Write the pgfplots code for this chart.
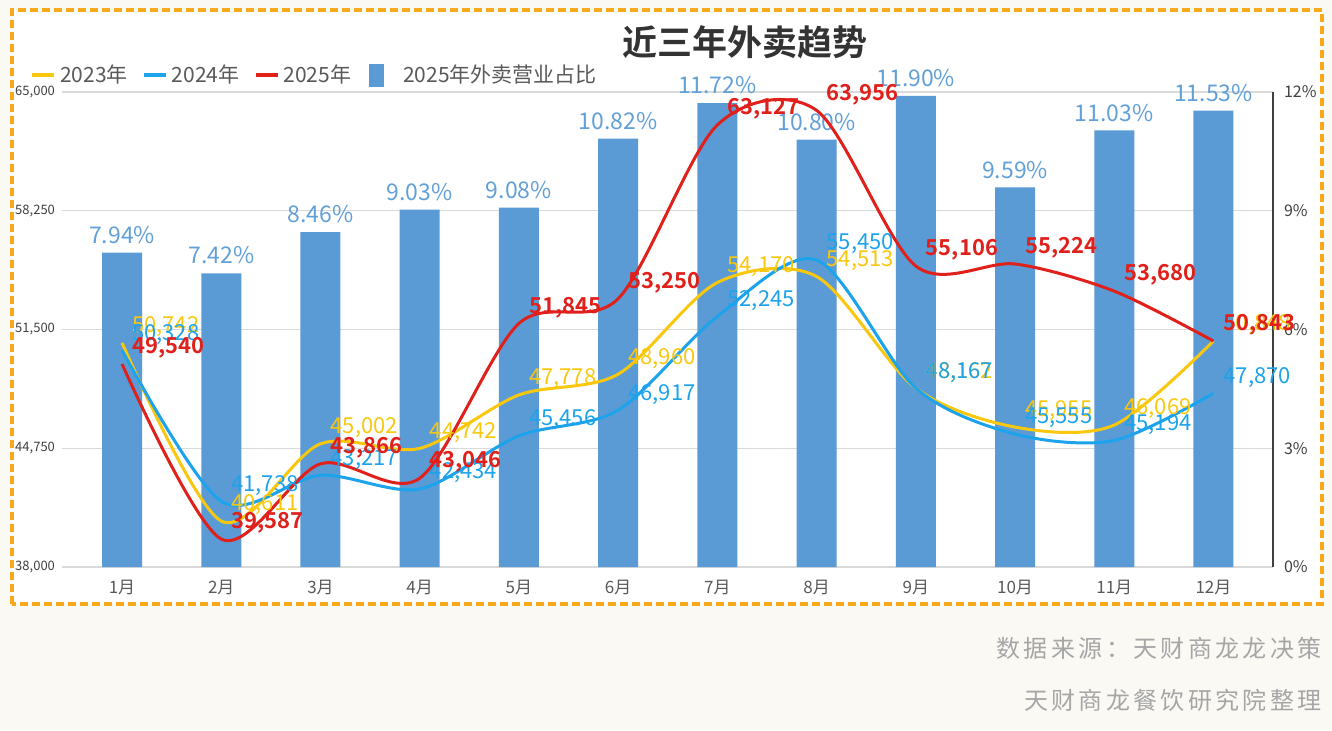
\documentclass[border=0pt]{standalone}
\usepackage{pgfplots}
\pgfplotsset{compat=1.18}
\usepackage{fontspec}
\setmainfont{Noto Sans CJK SC}[BoldFont={Noto Sans CJK SC Bold}]
\newfontfamily\footfont{Noto Sans CJK SC}[LetterSpace=14]
\definecolor{cream}{HTML}{FAF9F4}
\definecolor{frameorange}{HTML}{F7A81B}
\definecolor{barblue}{HTML}{5B9BD5}
\definecolor{barlabel}{HTML}{62A0D8}
\definecolor{ylw}{HTML}{F9C80E}
\definecolor{lblue}{HTML}{1CA3EC}
\definecolor{lred}{HTML}{E0201B}
\definecolor{gridgray}{HTML}{D9D9D9}
\definecolor{txtgray}{HTML}{595959}
\definecolor{darkgray}{HTML}{404040}
\definecolor{titlegray}{HTML}{333333}
\definecolor{footgray}{HTML}{A6A6A6}
\begin{document}
\begin{tikzpicture}
\useasboundingbox (0,0) rectangle (666pt,365pt);
\fill[cream] (0,0) rectangle (666pt,365pt);
\fill[white] (6pt,63pt) rectangle (661pt,360pt);
\draw[frameorange, line width=1.6pt, dash pattern=on 4pt off 2pt] (6pt,63pt) rectangle (661pt,360pt);
\node[font=\fontsize{17.5}{20}\selectfont\bfseries, text=titlegray] at (372.5pt,344pt) {近三年外卖趋势};
\node[anchor=east, inner sep=0pt, font=\footfont\fontsize{12}{14}\selectfont, text=footgray] at (661pt,41pt) {数据来源：天财商龙龙决策};
\node[anchor=east, inner sep=0pt, font=\footfont\fontsize{12}{14}\selectfont, text=footgray] at (661pt,15pt) {天财商龙餐饮研究院整理};

\begin{axis}[
  at={(31pt,81.5pt)}, anchor=south west, scale only axis,
  width=605.5pt, height=237.5pt,
  xmin=-0.605, xmax=11.6, ymin=0, ymax=12,
  axis x line*=bottom, axis y line*=right,
  x axis line style={draw=gridgray, line width=0.8pt, -},
  y axis line style={draw=darkgray, line width=0.8pt, -},
  xtick={0,...,11},
  xticklabels={1月,2月,3月,4月,5月,6月,7月,8月,9月,10月,11月,12月},
  major tick length=0pt,
  ytick={0,3,6,9,12},
  yticklabel={\pgfmathprintnumber{\tick}\%},
  ymajorgrids, grid style={gridgray, line width=0.6pt},
  xticklabel style={font=\fontsize{8.5}{10}\selectfont, text=txtgray, yshift=-3pt},
  yticklabel style={font=\fontsize{8}{10}\selectfont, text=darkgray, xshift=2pt},
  /pgf/number format/assume math mode=true,
]
\addplot[ybar, bar width=20pt, fill=barblue, draw=none,
  nodes near coords={\pgfmathprintnumber[fixed,fixed zerofill,precision=2]{\pgfplotspointmeta}\%},
  every node near coord/.append style={anchor=south, yshift=1pt, text=barlabel, font=\fontsize{11.5}{13}\selectfont}]
coordinates {(0,7.94) (1,7.42) (2,8.46) (3,9.03) (4,9.08) (5,10.82) (6,11.72) (7,10.80) (8,11.90) (9,9.59) (10,11.03) (11,11.53)};
\end{axis}

\begin{axis}[
  at={(31pt,81.5pt)}, anchor=south west, scale only axis,
  width=605.5pt, height=237.5pt,
  xmin=-0.605, xmax=11.6, ymin=38000, ymax=65000,
  hide x axis, axis y line*=left, y axis line style={draw=none},
  major tick length=0pt,
  ytick={38000,44750,51500,58250,65000},
  scaled y ticks=false,
  yticklabel style={font=\fontsize{6.5}{8}\selectfont, text=darkgray},
  /pgf/number format/1000 sep={,},
  /pgf/number format/assume math mode=true,
  legend style={at={(-0.0265,1)}, anchor=south west, yshift=1pt, draw=none, fill=none, inner sep=0pt,
    font=\fontsize{10.5}{12}\selectfont, text=txtgray,
    /tikz/every even column/.append style={column sep=5pt}},
  legend columns=-1,
  legend image code/.code={\draw[#1, line width=2pt] (0pt,0pt) -- (11pt,0pt);},
]
\addplot[smooth, tension=0.5, ylw, line width=1.5pt, mark=none,
  nodes near coords,
  every node near coord/.append style={anchor=west, xshift=1pt, yshift=8pt, text=ylw, font=\fontsize{11}{12}\selectfont}]
coordinates {(0,50742) (1,40611) (2,45002) (3,44742) (4,47778) (5,48960) (6,54170) (7,54513) (8,48162) (9,45955) (10,46069) (11,50848)};
\addlegendentry{2023年}
\addplot[smooth, tension=0.5, lblue, line width=1.5pt, mark=none,
  nodes near coords,
  every node near coord/.append style={anchor=west, xshift=1pt, yshift=8pt, text=lblue, font=\fontsize{11}{12}\selectfont}]
coordinates {(0,50328) (1,41738) (2,43217) (3,42434) (4,45456) (5,46917) (6,52245) (7,55450) (8,48167) (9,45555) (10,45194) (11,47870)};
\addlegendentry{2024年}
\addplot[smooth, tension=0.5, lred, line width=1.5pt, mark=none,
  nodes near coords,
  every node near coord/.append style={anchor=west, xshift=1pt, yshift=8pt, text=lred, font=\fontsize{11}{12}\selectfont\bfseries}]
coordinates {(0,49540) (1,39587) (2,43866) (3,43046) (4,51845) (5,53250) (6,63127) (7,63956) (8,55106) (9,55224) (10,53680) (11,50843)};
\addlegendentry{2025年}
\addlegendimage{legend image code/.code={\fill[barblue] (2pt,-5.5pt) rectangle (9pt,5.5pt); \path[draw=none, fill=none] (0pt,0pt) -- (17pt,0pt);}}
\addlegendentry{2025年外卖营业占比}
\end{axis}
\end{tikzpicture}
\end{document}
